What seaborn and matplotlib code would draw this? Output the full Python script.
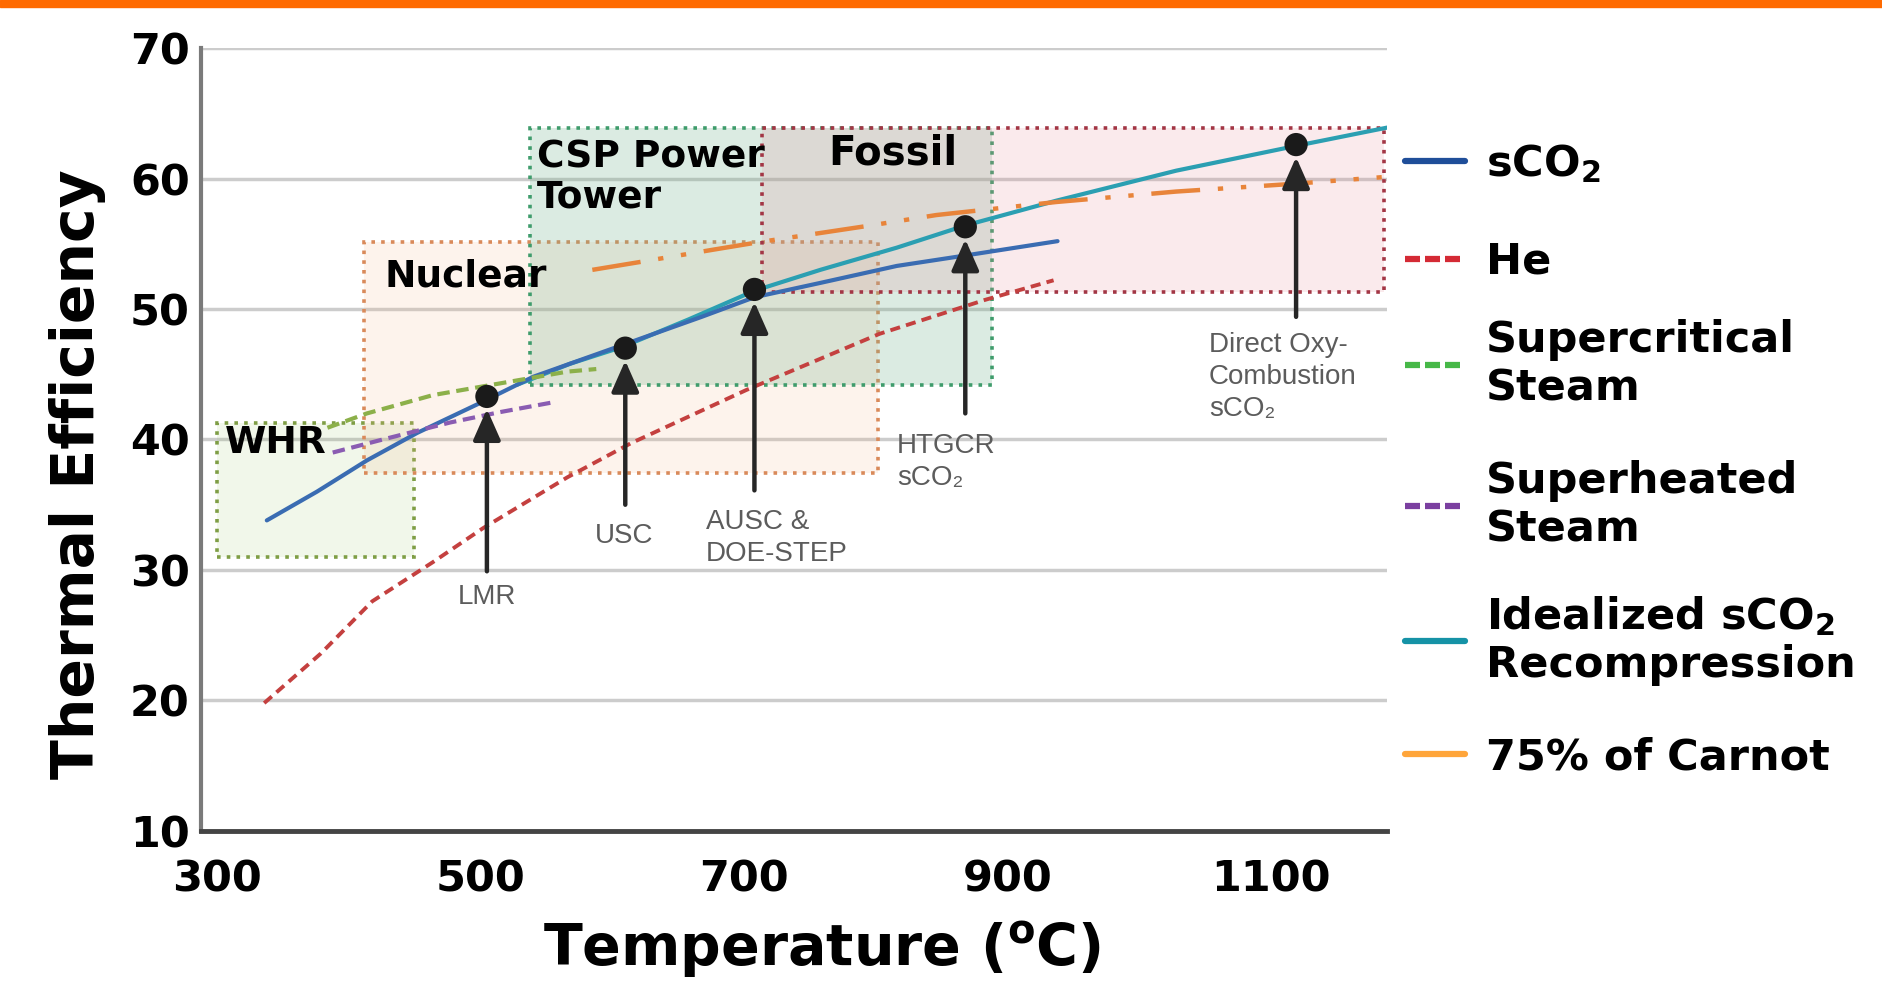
import seaborn as sns
import matplotlib.pyplot as plt
import pandas as pd
import numpy as np
from matplotlib.patches import Rectangle
from matplotlib.lines import Line2D
from matplotlib.transforms import ScaledTranslation

# 风格
sns.set_style('white')
plt.rcParams['font.family'] = ['DejaVu Sans']
plt.rcParams['mathtext.fontset'] = 'dejavusans'
plt.rcParams['text.color'] = '#000000'
plt.rcParams['axes.labelcolor'] = '#000000'

# ---- data ----
sco2_t = [350, 388, 426, 464, 514, 552, 616, 680, 720, 770, 828, 880, 950]
sco2_eff = [33.8, 36.0, 38.4, 40.5, 42.9, 44.8, 47.1, 49.4, 50.9, 52.0, 53.3, 54.1, 55.2]

ideal_t = [540, 580, 620, 670, 720, 770, 828, 880, 949, 1040, 1131, 1200]
ideal_eff = [44.2, 45.8, 47.1, 49.2, 51.4, 53.0, 54.7, 56.4, 58.3, 60.6, 62.5, 63.9]

he_t = [348, 391, 430, 476, 514, 578, 626, 714, 815, 895, 947]
he_eff = [19.8, 23.6, 27.6, 30.6, 33.2, 37.1, 39.7, 43.8, 48.1, 50.7, 52.2]

supercrit_t = [396, 426, 476, 527, 578, 600]
supercrit_eff = [40.9, 42.0, 43.4, 44.3, 45.2, 45.4]

superheat_t = [400, 438, 489, 527, 570]
superheat_eff = [39.0, 40.0, 41.3, 42.1, 42.9]

carnot_t = [597, 633, 686, 722, 775, 808, 858, 949, 1040, 1130, 1196]
carnot_eff = [53.0, 53.6, 54.5, 55.1, 55.9, 56.4, 57.2, 58.2, 59.0, 59.6, 60.1]

# application regions (x0, x1, y0, y1)
region_names = ['WHR', 'Nuclear', 'CSP Power\nTower', 'Fossil']
region_t0 = [312, 424, 550, 726]
region_t1 = [462, 814, 900, 1198]
region_e0 = [31.0, 37.4, 44.2, 51.3]
region_e1 = [41.3, 55.1, 63.9, 63.9]
region_label_t = [318, 439, 555, 776]
region_label_e = [39.7, 52.5, 60.1, 61.9]

# marked design points
point_names = ['LMR', 'USC', 'AUSC &\nDOE-STEP', 'HTGCR\nsCO₂', 'Direct Oxy-\nCombustion\nsCO₂']
point_t = [517, 622, 720, 880, 1131]
point_eff = [43.3, 47.0, 51.5, 56.3, 62.6]
arrow_base = [29.9, 35.0, 36.1, 42.0, 49.4]
label_t = [517, 621, 683, 828, 1065]
label_e = [27.9, 32.6, 32.45, 38.25, 44.8]
label_ha = ['center', 'center', 'left', 'left', 'left']

x_ticks = list(range(300, 1201, 100))
x_ticklabels = ['300', '', '500', '', '700', '', '900', '', '1100', '']
y_ticks = [10, 20, 30, 40, 50, 60, 70]

fig = plt.figure(figsize=(18.83, 9.82), dpi=100)
ax = fig.add_axes([0.1067, 0.1538, 0.6299, 0.7973])

# 区域方框
region_face = [(0.55, 0.75, 0.35, 0.12), (0.97, 0.72, 0.55, 0.16),
               (0.45, 0.70, 0.55, 0.25), (0.90, 0.55, 0.60, 0.18)]
region_edge = ['#7f9e45', '#d98a5a', '#3f9c6c', '#a33645']
region_size = [27, 27, 27, 29]
for i in range(len(region_names)):
    ax.add_patch(Rectangle((region_t0[i], region_e0[i]),
                           region_t1[i] - region_t0[i], region_e1[i] - region_e0[i],
                           facecolor=region_face[i], edgecolor=region_edge[i],
                           linestyle=(0, (1, 1.7)), lw=2.6, zorder=1))
    ax.text(region_label_t[i], region_label_e[i], region_names[i], ha='left', va='center',
            fontsize=region_size[i], fontweight='bold', color='#000000', zorder=6,
            linespacing=1.15)

# 曲线
sns.lineplot(x=ideal_t, y=ideal_eff, ax=ax, color='#2b9fb2', lw=3, zorder=3)
sns.lineplot(x=sco2_t, y=sco2_eff, ax=ax, color='#3a6cb2', lw=3, zorder=3)
sns.lineplot(x=he_t, y=he_eff, ax=ax, color='#c4403f', lw=2.8, linestyle=(0, (2.6, 1.6)), zorder=3)
sns.lineplot(x=supercrit_t, y=supercrit_eff, ax=ax, color='#8cb04a', lw=3, linestyle=(0, (3, 1.6)), zorder=3)
sns.lineplot(x=superheat_t, y=superheat_eff, ax=ax, color='#8a5cb2', lw=3, linestyle=(0, (3, 1.6)), zorder=3)
sns.lineplot(x=carnot_t, y=carnot_eff, ax=ax, color='#e8843a', lw=3.2,
             linestyle=(0, (11, 4, 1.2, 4, 1.2, 4)), zorder=3)

# 箭头与标注
for i in range(len(point_names)):
    ax.annotate('', xy=(point_t[i], point_eff[i]), xytext=(point_t[i], arrow_base[i]),
                arrowprops=dict(arrowstyle='-|>,head_length=0.95,head_width=0.42',
                                color='#262626', lw=3.2, shrinkA=0, shrinkB=9,
                                mutation_scale=20), zorder=4)
    ax.text(label_t[i], label_e[i], point_names[i], ha=label_ha[i], va='center',
            fontsize=20, color='#5c5c5c', family=['Liberation Sans', 'DejaVu Sans'],
            linespacing=1.3, zorder=6)
sns.scatterplot(x=point_t, y=point_eff, ax=ax, s=280, color='#1a1a1a',
                edgecolor='none', zorder=5)

# 坐标轴
ax.set_xlim(300, 1200)
ax.set_ylim(10, 70)
ax.set_xticks(x_ticks)
ax.set_xticklabels(x_ticklabels)
ax.set_yticks(y_ticks)
ax.tick_params(axis='x', direction='in', length=8, width=1.5, color='#bbbbbb',
               labelsize=31, pad=20)
ax.tick_params(axis='y', length=0, labelsize=31, pad=8)
for lab in ax.get_xticklabels() + ax.get_yticklabels():
    lab.set_fontweight('bold')
    lab.set_color('#000000')
for lab in ax.get_xticklabels():
    lab.set_transform(lab.get_transform() + ScaledTranslation(0.16, 0, fig.dpi_scale_trans))

ax.set_axisbelow(True)
ax.yaxis.grid(True, color='#cccccc', lw=2.5)
ax.xaxis.grid(False)
ax.spines['top'].set_visible(False)
ax.spines['right'].set_visible(False)
ax.spines['left'].set_color('#7a7a7a')
ax.spines['left'].set_linewidth(3)
ax.spines['bottom'].set_color('#444444')
ax.spines['bottom'].set_linewidth(3.5)

ax.set_xlabel(r'Temperature ($^{\mathbf{o}}$C)', fontsize=41, fontweight='bold')
ax.set_ylabel('Thermal Efficiency', fontsize=42, fontweight='bold')
ax.xaxis.set_label_coords(0.524, -0.152)
ax.xaxis.label.set_va('center')
ax.yaxis.set_label_coords(-0.1037, 0.456)
ax.yaxis.label.set_va('center')

# 图例
legend_labels = [r'sCO$_\mathbf{2}$', 'He', 'Supercritical\nSteam', 'Superheated\nSteam',
                 'Idealized sCO$_\\mathbf{2}$\nRecompression', '75% of Carnot']
legend_colors = ['#1f4e99', '#d42a35', '#46b848', '#7b3fa0', '#1592a6', '#ffa53a']
legend_styles = ['-', (0, (2.4, 0.8)), (0, (2.4, 0.8)), (0, (2.4, 0.8)), '-', '-']
legend_y = [164, 262, 364, 505, 640, 757]
for lab, col, ls, yy in zip(legend_labels, legend_colors, legend_styles, legend_y):
    h = Line2D([], [], color=col, lw=4.5, linestyle=ls)
    leg = fig.legend(handles=[h], labels=[lab], loc='center left',
                     bbox_to_anchor=(1405 / 1883, 1 - yy / 982), bbox_transform=fig.transFigure,
                     frameon=False, prop={'weight': 'bold', 'size': 31},
                     handlelength=1.4, handletextpad=0.48, borderpad=0, borderaxespad=0)
    for t in leg.get_texts():
        t.set_color('#000000')

# 顶部橙色条
fig.add_artist(Rectangle((0, 1 - 7 / 982), 1, 7 / 982, transform=fig.transFigure,
                         color='#ff6a00', zorder=10))

fig.savefig('out.png', dpi=100)
